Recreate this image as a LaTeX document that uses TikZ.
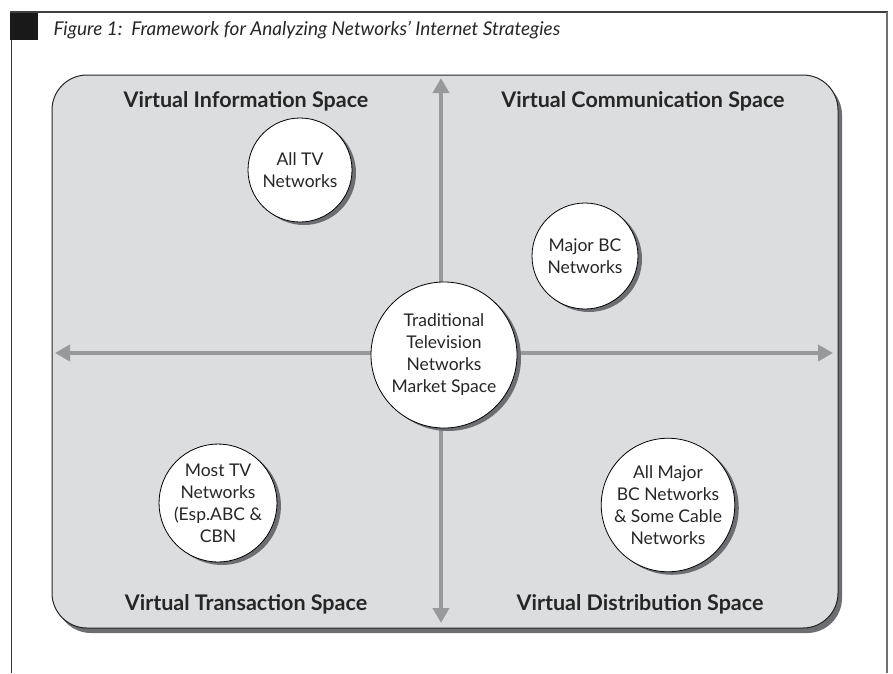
\documentclass[tikz,border=0pt]{standalone}
\usepackage{fontspec}
\setmainfont{Lato}
\usepackage{tikz}
\usetikzlibrary{arrows.meta,shadows}

\definecolor{panelgray}{HTML}{DCDDDF}
\definecolor{axisgray}{HTML}{98999B}
\definecolor{shadowgray}{HTML}{6D6E71}
\definecolor{framegray}{HTML}{707070}

\tikzset{
  bubble/.style={circle, draw=black, line width=0.8pt, fill=white, align=center,
    inner sep=0pt, font=\fontsize{17.5}{22}\selectfont, text=black!85,
    drop shadow={shadow xshift=4pt, shadow yshift=-3pt, fill=shadowgray, opacity=1}},
  spacelabel/.style={font=\bfseries\fontsize{21.5}{24}\selectfont, text=black!85},
  axis/.style={axisgray, line width=4pt,
    {Triangle[length=15pt,width=16pt]}-{Triangle[length=15pt,width=16pt]}}
}

\begin{document}
\begin{tikzpicture}[x=1pt,y=-1pt]

\useasboundingbox (0,0) rectangle (893,673);

% page frame
\fill[black!90] (10,11) rectangle (38,40);
\draw[line width=1.2pt, black!75] (10,12) -- (888,12);
\draw[line width=2pt, framegray] (887,12) -- (887,673);
\draw[line width=1pt, black!80] (11,40) -- (11,673);

\node[anchor=west, font=\itshape\fontsize{19}{22}\selectfont, text=black!85] (title) at (50,30)
  {Figure 1:\ \ Framework for Analyzing Networks’ Internet Strategies};

% grey panel
\path[draw=black!85, line width=1pt, fill=panelgray, rounded corners=35,
  drop shadow={shadow xshift=4pt, shadow yshift=-5pt, fill=shadowgray, opacity=1}]
  (52,75) rectangle (838,628);

% axes
\coordinate (west) at (55,353);
\coordinate (east) at (833,353);
\coordinate (north) at (441,78);
\coordinate (south) at (441,623);
\draw[axis] (west) -- (east);
\draw[axis] (north) -- (south);

% market spaces
\node[bubble, minimum size=146] (market) at (444,355)
  {Traditional\\Television\\Networks\\Market Space};
\node[bubble, minimum size=104] (info) at (300,170) {All TV\\Networks};
\node[bubble, minimum size=106] (comm) at (585,256) {Major BC\\Networks};
\node[bubble, minimum size=112] (trans) at (218,503)
  {Most TV\\Networks\\(Esp.ABC \&\\CBN};
\node[bubble, minimum size=116] (distr) at (668,505)
  {All Major\\BC Networks\\\& Some Cable\\Networks};

\node[spacelabel] (infolbl) at (246,101) {Virtual Information Space};
\node[spacelabel] (commlbl) at (643,101) {Virtual Communication Space};
\node[spacelabel] (translbl) at (246,604) {Virtual Transaction Space};
\node[spacelabel] (distrlbl) at (640,604) {Virtual Distribution Space};

\end{tikzpicture}
\end{document}
